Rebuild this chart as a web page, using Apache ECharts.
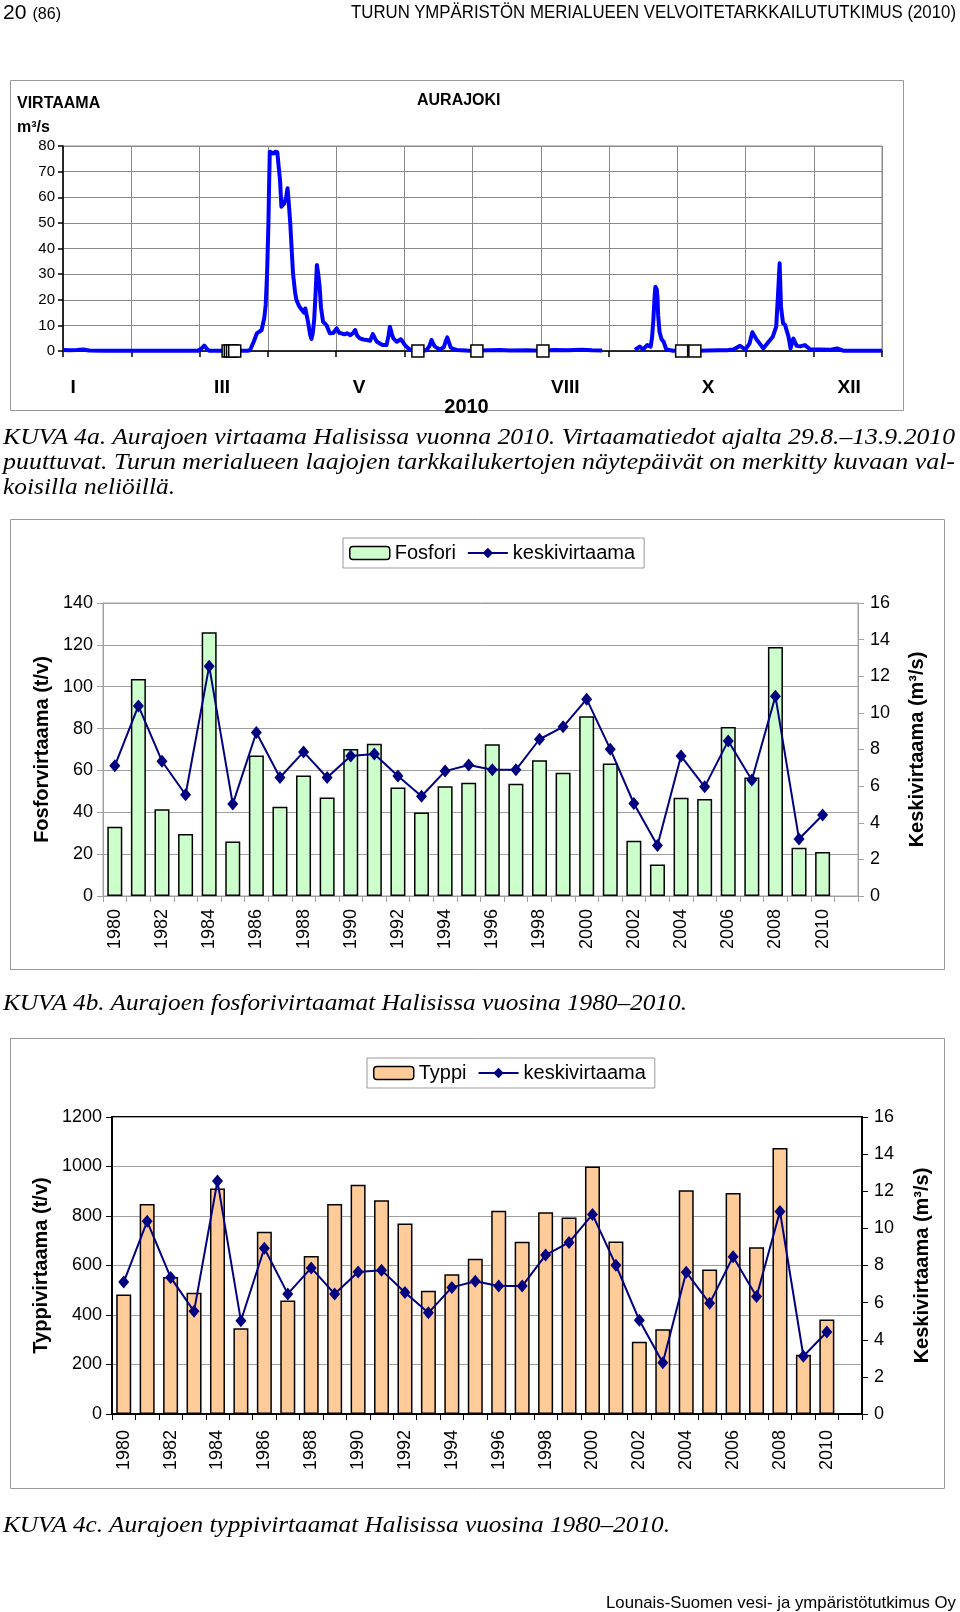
<!DOCTYPE html>
<html><head><meta charset="utf-8">
<script src="https://cdn.jsdelivr.net/npm/echarts@6/dist/echarts.min.js"></script>
<style>
html,body{margin:0;padding:0;background:#fff;}
#page{position:relative;width:960px;height:1612px;overflow:hidden;background:#fff;}
#chart{position:absolute;left:0;top:0;width:960px;height:1612px;}
.t{position:absolute;white-space:nowrap;transform-origin:0 50%;color:#000;z-index:5;}
.cap{font-family:'Liberation Serif','Times New Roman',serif;font-style:italic;font-size:23px;line-height:24px;}
.hdr{font-family:'Liberation Sans Narrow','Arial Narrow','Liberation Sans',Arial,sans-serif;line-height:24px;}
</style></head><body>
<div id="page">
<div id="chart"></div>
<div class="t hdr" data-w="58" style="left:3px;top:0px;font-size:21px;">20 <span style="font-size:16px">(86)</span></div>
<div class="t hdr" data-w="605" style="left:351px;top:0px;font-size:18px;">TURUN YMPÄRISTÖN MERIALUEEN VELVOITETARKKAILUTUTKIMUS (2010)</div>
<div class="t cap" data-w="952" style="left:3px;top:425px;">KUVA 4a. Aurajoen virtaama Halisissa vuonna 2010. Virtaamatiedot ajalta 29.8.–13.9.2010</div>
<div class="t cap" data-w="952" style="left:3px;top:450px;">puuttuvat. Turun merialueen laajojen tarkkailukertojen näytepäivät on merkitty kuvaan val-</div>
<div class="t cap" data-w="172" style="left:3px;top:475px;">koisilla neliöillä.</div>
<div class="t cap" data-w="684" style="left:3px;top:991px;">KUVA 4b. Aurajoen fosforivirtaamat Halisissa vuosina 1980–2010.</div>
<div class="t cap" data-w="667" style="left:3px;top:1513px;">KUVA 4c. Aurajoen typpivirtaamat Halisissa vuosina 1980–2010.</div>
<div class="t hdr" data-w="350" style="left:606px;top:1591px;font-size:17px;">Lounais-Suomen vesi- ja ympäristötutkimus Oy</div>
</div>
<script>
// ---- Data ----
// Daily flow (virtaama) Aurajoki 2010, x in month units (0 = 1 Jan, 12 = 31 Dec), value m3/s
const flowPoints = [
 [0.00,0.4],[0.10,0.3],[0.20,0.4],[0.30,0.6],[0.38,0.2],[0.60,0.1],[1.00,0.1],[1.50,0.1],[1.98,0.1],
 [2.03,1.0],[2.07,2.1],[2.11,0.8],[2.14,0.1],[2.50,0.1],[2.70,0.1],[2.74,0.3],[2.80,4.0],[2.84,6.9],
 [2.91,8.2],[2.95,13],[2.97,18],[2.99,30],[3.01,50],[3.02,65],[3.03,77.8],[3.05,77.5],[3.08,77.1],
 [3.11,77.8],[3.14,77.6],[3.16,72],[3.18,66.7],[3.20,56.3],[3.22,56.5],[3.24,57.5],[3.27,60],[3.29,63.5],
 [3.31,57],[3.33,49.8],[3.35,40],[3.37,30.3],[3.40,23],[3.42,19.9],[3.46,17.5],[3.50,16],[3.53,15],
 [3.55,16.6],[3.57,14],[3.59,11.4],[3.62,6.5],[3.64,4.7],[3.66,7],[3.68,12.1],[3.70,22],[3.72,33.6],
 [3.74,30],[3.76,25.1],[3.78,17],[3.81,11.4],[3.86,10.1],[3.91,6.9],[3.96,7.0],[4.01,8.8],[4.05,7.0],
 [4.08,6.9],[4.12,6.5],[4.16,6.9],[4.21,6.2],[4.25,7.0],[4.28,8.2],[4.31,6.0],[4.35,4.9],[4.40,4.5],
 [4.45,4.3],[4.50,4.0],[4.54,6.6],[4.57,5.0],[4.60,3.6],[4.65,2.8],[4.69,2.3],[4.74,2.3],[4.77,6.0],
 [4.79,9.5],[4.82,6.5],[4.84,4.9],[4.89,3.6],[4.95,4.6],[4.98,3.5],[5.01,2.3],[5.05,1.2],[5.08,0.6],
 [5.13,0.1],[5.28,0.1],[5.33,0.4],[5.37,2.0],[5.40,4.3],[5.43,2.5],[5.45,1.7],[5.52,0.6],[5.58,1.5],
 [5.61,4.0],[5.63,5.3],[5.66,3.0],[5.68,1.4],[5.73,0.7],[5.77,0.4],[5.96,0.1],[6.10,0.2],[6.40,0.4],
 [6.55,0.2],[6.80,0.3],[7.00,0.1],[7.20,0.4],[7.40,0.3],[7.60,0.5],[7.75,0.3],[7.90,0.2],
 [8.10,null],
 [8.38,0.4],[8.45,1.7],[8.50,0.6],[8.56,2.3],[8.61,1.7],[8.63,5],[8.65,12.1],[8.67,22],[8.68,25.1],
 [8.70,24],[8.71,21.2],[8.72,14],[8.74,7.5],[8.77,4.6],[8.80,3.6],[8.84,0.6],[8.94,0.1],[9.30,0.1],
 [9.60,0.3],[9.73,0.3],[9.82,0.6],[9.92,2.0],[10.00,0.6],[10.06,3.0],[10.10,7.3],[10.16,4.6],[10.22,2.5],
 [10.26,1.0],[10.33,3.3],[10.40,5.6],[10.45,9.5],[10.48,23.8],[10.50,34.2],[10.52,17.3],[10.55,10.8],
 [10.58,10.1],[10.63,5.6],[10.66,1.0],[10.70,4.9],[10.75,2.0],[10.80,1.8],[10.87,2.3],[10.95,0.6],
 [11.09,0.6],[11.25,0.5],[11.34,1.0],[11.43,0.1],[11.70,0.1],[12.00,0.1]
];
// Sample dates (näytepäivät), day.month.
const sampleDates = ['14.3.','15.3.','16.3.','17.3.','7.6.','3.7.','2.8.','3.10.','9.10.'];
const monthDays = [31,28,31,30,31,30,31,31,30,31,30,31];
const monthLabels = ['I','III','V','VIII','X','XII'];
const monthLabelPos = [0.15, 2.33, 4.34, 7.36, 9.45, 11.52];

const years = [1980,1981,1982,1983,1984,1985,1986,1987,1988,1989,1990,1991,1992,1993,1994,1995,
  1996,1997,1998,1999,2000,2001,2002,2003,2004,2005,2006,2007,2008,2009,2010];
const fosfori = [33.1,103.7,41.4,29.6,126.0,26.1,67.1,42.6,57.6,47.1,70.2,72.7,51.9,39.9,52.5,54.1,
  72.5,53.6,64.9,58.9,85.9,63.3,26.4,15.0,46.9,46.3,80.8,56.6,119.0,23.1,21.0];
const typpi = [483,848,554,490,911,346,736,459,638,848,926,864,770,498,565,627,
  821,696,815,794,1000,697,292,342,904,584,893,674,1075,239,382];
const keskivirtaama = [7.11,10.38,7.36,5.53,12.55,5.02,8.93,6.47,7.87,6.47,7.65,7.75,6.55,5.45,6.82,7.15,
  6.89,6.89,8.56,9.24,10.75,8.02,5.05,2.76,7.64,5.96,8.47,6.33,10.91,3.11,4.42];

// ---- Build ----
const sampleX = sampleDates.map(s => { const p = s.split('.'); const d = +p[0], m = +p[1]; return (m - 1) + (d - 1) / monthDays[m - 1]; });
const flowData = flowPoints.map(p => [p[0], p[1] === null ? '-' : p[1]]);
const axisYears = years.map(String).concat(['']);
const FF = "'Liberation Sans', Arial, sans-serif";
const GRAY = '#a0a0a0';
const plain = v => String(v);

const chart = echarts.init(document.getElementById('chart'), null, {renderer: 'canvas'});
const lbl = (fs, extra) => Object.assign({color: '#000', fontSize: fs, fontFamily: FF}, extra || {});

const option = {
  animation: false,
  backgroundColor: 'transparent',
  textStyle: {fontFamily: FF, color: '#000'},
  grid: [
    {left: 63, top: 146, width: 819, height: 205, show: true, borderColor: '#8a8a8a', borderWidth: 1, containLabel: false, outerBoundsMode: 'none'},
    {left: 103, top: 603, width: 755, height: 293, show: true, borderColor: GRAY, borderWidth: 1, containLabel: false, outerBoundsMode: 'none'},
    {left: 112, top: 1117, width: 750, height: 297, show: true, borderColor: '#000', borderWidth: 2, containLabel: false, outerBoundsMode: 'none'}
  ],
  legend: [
    {left: 343, top: 538, orient: 'horizontal', selectedMode: false, borderColor: '#999', borderWidth: 1,
     padding: [5, 9, 5, 6], itemGap: 11, itemWidth: 40, itemHeight: 13, textStyle: lbl(20),
     data: [{name: 'Fosfori', itemStyle: {borderColor: '#000', borderWidth: 1.5}}, {name: 'keskivirtaama'}]},
    {left: 367, top: 1058, orient: 'horizontal', selectedMode: false, borderColor: '#999', borderWidth: 1,
     padding: [5, 9, 5, 6], itemGap: 11, itemWidth: 40, itemHeight: 13, textStyle: lbl(20),
     data: [{name: 'Typpi', itemStyle: {borderColor: '#000', borderWidth: 1.5}}, {name: 'keskivirtaama'}]}
  ],
  xAxis: [
    {type: 'value', gridIndex: 0, position: 'bottom', min: 0, max: 12, interval: 1,
     axisLine: {show: true, onZero: false, lineStyle: {color: '#000', width: 1.5}},
     axisTick: {show: true, length: 6, lineStyle: {color: '#000', width: 1.5}},
     axisLabel: {show: false},
     splitLine: {show: true, lineStyle: {color: '#8a8a8a', width: 1}}},
    {type: 'value', gridIndex: 0, position: 'bottom', min: 0, max: 12,
     axisLine: {show: false}, axisTick: {show: false}, splitLine: {show: false},
     axisLabel: lbl(19, {fontWeight: 'bold', margin: 27, customValues: monthLabelPos,
       formatter: v => { const i = monthLabelPos.indexOf(v); return i >= 0 ? monthLabels[i] : ''; }}),
     name: '2010', nameLocation: 'middle', nameGap: 43, nameTextStyle: lbl(20, {fontWeight: 'bold', padding: [0, 12, 0, 0]})},
    {type: 'category', gridIndex: 1, position: 'bottom', data: axisYears, boundaryGap: true,
     axisLine: {show: true, lineStyle: {color: GRAY, width: 1}},
     axisTick: {show: true, interval: 0, length: 6, lineStyle: {color: GRAY}},
     axisLabel: lbl(18, {interval: 1, rotate: 90, margin: 13})},
    {type: 'category', gridIndex: 2, position: 'bottom', data: axisYears, boundaryGap: true,
     axisLine: {show: true, lineStyle: {color: '#000', width: 2}},
     axisTick: {show: true, interval: 0, length: 6, lineStyle: {color: '#000', width: 1}},
     axisLabel: lbl(18, {interval: 1, rotate: 90, margin: 16})}
  ],
  yAxis: [
    {type: 'value', gridIndex: 0, min: 0, max: 80, interval: 10,
     axisLine: {show: true, lineStyle: {color: '#000', width: 1.5}},
     axisTick: {show: true, length: 5, lineStyle: {color: '#000', width: 1.5}},
     axisLabel: lbl(15, {margin: 8, formatter: plain}),
     splitLine: {show: true, lineStyle: {color: '#8a8a8a', width: 1}}},
    {type: 'value', gridIndex: 1, position: 'left', min: 0, max: 140, interval: 20,
     axisLine: {show: true, lineStyle: {color: GRAY}},
     axisTick: {show: true, length: 6, lineStyle: {color: GRAY}},
     axisLabel: lbl(18, {margin: 10, formatter: plain}),
     splitLine: {show: true, lineStyle: {color: GRAY, width: 1}},
     name: 'Fosforvirtaama (t/v)', nameLocation: 'middle', nameRotate: 90, nameGap: 41,
     nameTextStyle: lbl(20, {fontWeight: 'bold'})},
    {type: 'value', gridIndex: 1, position: 'right', min: 0, max: 16, interval: 2,
     axisLine: {show: true, lineStyle: {color: GRAY}},
     axisTick: {show: true, length: 6, lineStyle: {color: GRAY}},
     axisLabel: lbl(18, {margin: 12, formatter: plain}),
     splitLine: {show: false},
     name: 'Keskivirtaama (m³/s)', nameLocation: 'middle', nameRotate: 90, nameGap: 49,
     nameTextStyle: lbl(20, {fontWeight: 'bold'})},
    {type: 'value', gridIndex: 2, position: 'left', min: 0, max: 1200, interval: 200,
     axisLine: {show: true, lineStyle: {color: '#000', width: 2}},
     axisTick: {show: true, length: 6, lineStyle: {color: '#000'}},
     axisLabel: lbl(18, {margin: 10, formatter: plain}),
     splitLine: {show: true, lineStyle: {color: GRAY, width: 1}},
     name: 'Typpivirtaama (t/v)', nameLocation: 'middle', nameRotate: 90, nameGap: 56,
     nameTextStyle: lbl(20, {fontWeight: 'bold'})},
    {type: 'value', gridIndex: 2, position: 'right', min: 0, max: 16, interval: 2,
     axisLine: {show: true, lineStyle: {color: '#000', width: 2}},
     axisTick: {show: true, length: 6, lineStyle: {color: '#000'}},
     axisLabel: lbl(18, {margin: 12, formatter: plain}),
     splitLine: {show: false},
     name: 'Keskivirtaama (m³/s)', nameLocation: 'middle', nameRotate: 90, nameGap: 50,
     nameTextStyle: lbl(20, {fontWeight: 'bold'})}
  ],
  series: [
    {name: 'virtaama', type: 'line', xAxisIndex: 0, yAxisIndex: 0, data: flowData, showSymbol: false,
     connectNulls: false, smooth: false, lineStyle: {color: '#0000ff', width: 4, join: 'round'}, itemStyle: {color: '#0000ff'}, z: 3},
    {name: 'näytepäivät', type: 'scatter', xAxisIndex: 0, yAxisIndex: 0, data: sampleX.map(x => [x, 0]),
     symbol: 'rect', symbolSize: 12, itemStyle: {color: '#fff', borderColor: '#000', borderWidth: 1.5, opacity: 1}, z: 5},
    {name: 'Fosfori', type: 'bar', xAxisIndex: 2, yAxisIndex: 1, data: fosfori, barWidth: 15,
     itemStyle: {color: '#ccffcc', borderColor: '#000', borderWidth: 1.5}},
    {name: 'keskivirtaama', type: 'line', xAxisIndex: 2, yAxisIndex: 2, data: keskivirtaama,
     symbol: 'diamond', symbolSize: [11, 13], lineStyle: {color: '#000080', width: 2}, itemStyle: {color: '#000080'}},
    {name: 'Typpi', type: 'bar', xAxisIndex: 3, yAxisIndex: 3, data: typpi, barWidth: 15,
     itemStyle: {color: '#ffcc99', borderColor: '#000', borderWidth: 1.5}},
    {name: 'keskivirtaama', type: 'line', xAxisIndex: 3, yAxisIndex: 4, data: keskivirtaama,
     symbol: 'diamond', symbolSize: [11, 13], lineStyle: {color: '#000080', width: 2}, itemStyle: {color: '#000080'}}
  ],
  graphic: [
    {type: 'rect', shape: {x: 10.5, y: 80.5, width: 893, height: 330}, style: {fill: 'none', stroke: '#999', lineWidth: 1}, silent: true, z: -10},
    {type: 'rect', shape: {x: 10.5, y: 519.5, width: 934, height: 450}, style: {fill: 'none', stroke: '#999', lineWidth: 1}, silent: true, z: -10},
    {type: 'rect', shape: {x: 10.5, y: 1038.5, width: 934, height: 450}, style: {fill: 'none', stroke: '#999', lineWidth: 1}, silent: true, z: -10},
    {type: 'text', left: 17, top: 96, style: {text: 'VIRTAAMA', font: 'bold 16px ' + FF, fill: '#000'}},
    {type: 'text', left: 17, top: 120, style: {text: 'm³/s', font: 'bold 16px ' + FF, fill: '#000'}},
    {type: 'text', left: 417, top: 93, style: {text: 'AURAJOKI', font: 'bold 16px ' + FF, fill: '#000'}}
  ]
};
chart.setOption(option);

function fit() {
  document.querySelectorAll('[data-w]').forEach(el => {
    el.style.transform = 'none';
    const w = el.getBoundingClientRect().width;
    const target = +el.getAttribute('data-w');
    if (w > 0) el.style.transform = 'scaleX(' + (target / w) + ')';
  });
}
fit();
if (document.fonts && document.fonts.ready) document.fonts.ready.then(fit);
</script>
</body></html>
